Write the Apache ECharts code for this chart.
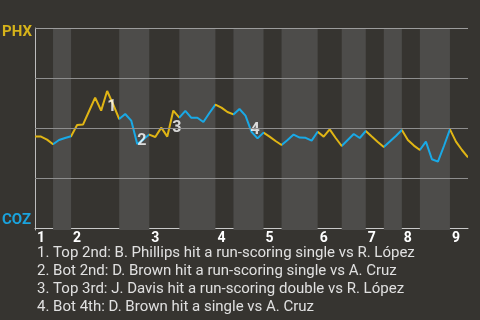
<!DOCTYPE html>
<html><head><meta charset="utf-8">
<script src="https://cdn.jsdelivr.net/npm/echarts@6/dist/echarts.min.js"></script>
<style>html,body{margin:0;padding:0;background:#363430;}#c{width:480px;height:320px;}</style>
</head><body><div id="c"></div>
<script>
// PHX win probability (%) after each plate appearance
const winProb = [45.7,45.7,44.2,41.9,44,45,45.9,51.5,51.8,58.5,65.2,58.7,68.5,61.8,54.5,57,53.7,42,44.2,46.7,45.5,50.2,45.7,58.7,55.2,58.6,55.1,55.1,53,57.5,61.7,60.2,58,56.8,59.5,56.2,48.1,44.8,47.7,45.7,43.5,41.5,44,46.7,45.2,45.1,43.7,48.1,45.7,49.3,45,41,44,47,45,48.5,45.7,43,40.5,43.2,46,49,44,41.2,39,43.2,34.4,33.2,41,49.3,43.2,39,35.3];
// plate-appearance index where each half inning starts (last = end)
const halfStarts = [0,3,6,14,19,24,30,33,38,41,47,51,55,58,61,64,69,72];
const inningStarts = [0,6,19,30,38,47,55,61,69];
const inningLabels = ['1','2','3','4','5','6','7','8','9'];
const annoIdx = [12,17,23,36];
const annoText = ['1','2','3','4'];
const notes = [
  '1. Top 2nd: B. Phillips hit a run-scoring single vs R. López',
  '2. Bot 2nd: D. Brown hit a run-scoring single vs A. Cruz',
  '3. Top 3rd: J. Davis hit a run-scoring double vs R. López',
  '4. Bot 4th: D. Brown hit a single vs A. Cruz'
];
const teamTop = 'PHX', teamBottom = 'COZ';

const YEL = '#e0b514', BLU = '#19a9e6';
const annoOffsets = [[0,16],[0,-3],[-1,17],[-1,-2]];

const lineData = winProb.map((v,i)=>[i,v]);
const pieces = [];
const bands = [];
for (let k=0;k<halfStarts.length-1;k++){
  const p = {gte: halfStarts[k], color: k%2===0?YEL:BLU};
  if (k===halfStarts.length-2) p.lte = halfStarts[k+1]; else p.lt = halfStarts[k+1];
  pieces.push(p);
  if (k%2===1) bands.push([{xAxis: halfStarts[k]},{xAxis: halfStarts[k+1]}]);
}
const labelMap = {};
inningStarts.forEach((s,i)=>labelMap[s]=inningLabels[i]);

const chart = echarts.init(document.getElementById('c'), null, {renderer:'canvas'});
chart.setOption({
  backgroundColor:'#363430',
  animation:false,
  grid:{left:35, top:28, width:433, height:202},
  xAxis:{type:'value', min:0, max:72, interval:1,
    axisLine:{show:true, lineStyle:{color:'#c8c8c8', width:1}},
    axisTick:{show:false}, splitLine:{show:false},
    axisLabel:{show:true, margin:1, align:'left', padding:[0,0,0,2],
      color:'#ffffff', fontFamily:'Roboto', fontWeight:'bold', fontSize:14,
      showMinLabel:true, showMaxLabel:true,
      formatter:(v)=> labelMap[v]!==undefined ? labelMap[v] : ''}
  },
  yAxis:{type:'value', min:-1, max:100,
    axisLine:{show:true, lineStyle:{color:'#bdbdbd', width:1}},
    axisTick:{show:false}, splitLine:{show:false}, axisLabel:{show:false}},
  visualMap:{show:false, type:'piecewise', dimension:0, seriesIndex:2, pieces:pieces},
  graphic:[
    {type:'text', left:2, top:25, style:{text:teamTop, fill:'#d6b31a', font:'bold 15px Roboto'}},
    {type:'text', left:2, top:213, style:{text:teamBottom, fill:'#1aa3dd', font:'bold 15px Roboto'}},
    {type:'text', left:37, top:244, style:{text:notes.join('\n'), fill:'#e0e0e0', font:'15px Roboto', lineHeight:18}}
  ],
  series:[
    {type:'line', data:[], z:1, silent:true,
      markArea:{silent:true, itemStyle:{color:'#4d4c4a'}, data:bands}},
    {type:'line', data:[], z:2, silent:true,
      markLine:{silent:true, symbol:'none', label:{show:false},
        lineStyle:{color:'#8e8e8e', width:1, type:'solid'},
        data:[{yAxis:25},{yAxis:50},{yAxis:75},{yAxis:100, lineStyle:{color:'#9c9c9c'}}]}},
    {type:'line', data:lineData, z:3, symbol:'none', lineStyle:{width:2}},
    {type:'scatter', z:4, symbolSize:0, silent:true,
      data: annoIdx.map((ix,k)=>({value:[ix, winProb[ix]],
        label:{show:true, formatter:annoText[k], position:[0,0], align:'left', verticalAlign:'middle',
          offset:annoOffsets[k], color:'#ffffff', fontFamily:'Roboto', fontWeight:'bold', fontSize:16}}))}
  ]
});
</script></body></html>
